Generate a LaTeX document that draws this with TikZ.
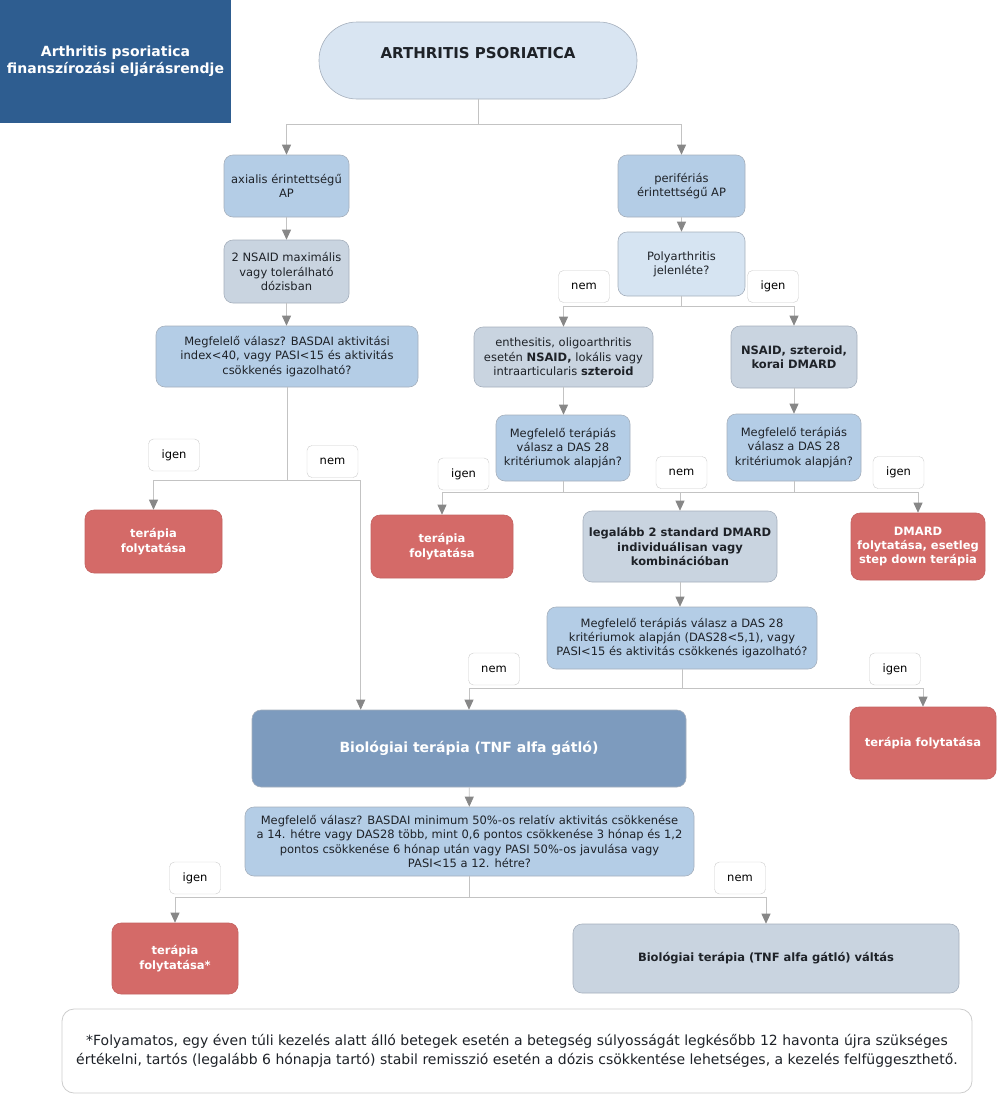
\documentclass[tikz,border=0pt]{standalone}
\usepackage{fontspec}
\setmainfont{DejaVu Sans}
\usetikzlibrary{arrows.meta}
\definecolor{titleblue}{RGB}{46,93,144}
\definecolor{pillblue}{RGB}{217,229,242}
\definecolor{midblue}{RGB}{180,205,230}
\definecolor{lightblue}{RGB}{214,228,242}
\definecolor{greyblue}{RGB}{201,212,224}
\definecolor{redfill}{RGB}{212,106,104}
\definecolor{bioblue}{RGB}{125,155,190}
\definecolor{boxline}{RGB}{165,175,188}
\definecolor{boxtext}{RGB}{30,34,40}
\definecolor{labline}{RGB}{205,205,205}
\definecolor{connline}{RGB}{195,195,195}
\definecolor{tipgray}{RGB}{135,135,135}
\begin{document}
\begin{tikzpicture}[x=1pt,y=-1pt,
    box/.style={draw=boxline, line width=0.6pt, rounded corners=9pt, align=center, inner sep=0pt,
        text=boxtext, font=\fontsize{11.5}{14.3}\selectfont},
    bluebox/.style={box, fill=midblue},
    greybox/.style={box, fill=greyblue},
    redbox/.style={box, fill=redfill, draw=redfill!92!black, text=white,
        font=\fontsize{11.5}{14.3}\selectfont\bfseries},
    lab/.style={draw=labline, fill=white, rounded corners=5pt, minimum width=51pt,
        minimum height=32pt, inner sep=0pt, font=\fontsize{11.5}{14}\selectfont},
    conn/.style={draw=connline, line width=0.8pt},
    arr/.style={conn, -{Triangle[width=9pt,length=10pt,color=tipgray]}}]
    \useasboundingbox (0,0) rectangle (997,1114);

    % header and start
    \node[fill=titleblue, text=white, minimum width=231pt, minimum height=123pt, inner sep=0pt, align=center,
        font=\fontsize{14}{17}\selectfont\bfseries] (title) at (115.5,61.5)
        {Arthritis psoriatica\\finanszírozási eljárásrendje};
    \node[box, fill=pillblue, rounded corners=38pt, minimum width=318pt, minimum height=77pt,
        text height=10pt, text depth=15pt, font=\fontsize{15}{18}\selectfont\bfseries] (top) at (478,60.5)
        {ARTHRITIS PSORIATICA};

    % axial branch
    \node[bluebox, minimum width=125pt, minimum height=62pt] (axial) at (286.5,186) {axialis érintettségű\\AP};
    \node[greybox, minimum width=125pt, minimum height=63pt] (nsaid) at (286.5,271.5)
        {2 NSAID maximális\\vagy tolerálható\\dózisban};
    \node[bluebox, minimum width=262pt, minimum height=61pt] (mtA) at (287,356.5)
        {Megfelelő válasz? BASDAI aktivitási\\index<40, vagy PASI<15 és aktivitás\\csökkenés igazolható?};
    \node[redbox, minimum width=137pt, minimum height=63pt] (terA) at (153.5,541.5) {terápia\\folytatása};

    % peripheral branch
    \node[bluebox, minimum width=127pt, minimum height=62pt] (perif) at (681.5,186) {perifériás\\érintettségű AP};
    \node[box, fill=lightblue, minimum width=127pt, minimum height=64pt] (poly) at (681.5,264)
        {Polyarthritis\\jelenléte?};
    \node[greybox, minimum width=179pt, minimum height=60pt] (enth) at (563.5,357)
        {enthesitis, oligoarthritis\\esetén \textbf{NSAID,} lokális vagy\\intraarticularis \textbf{szteroid}};
    \node[greybox, minimum width=126pt, minimum height=62pt, font=\fontsize{11.5}{14.3}\selectfont\bfseries] (nsz)
        at (794,357) {NSAID, szteroid,\\korai DMARD};
    \node[bluebox, minimum width=134pt, minimum height=66pt] (mtB) at (563,448)
        {Megfelelő terápiás\\válasz a DAS 28\\kritériumok alapján?};
    \node[bluebox, minimum width=134pt, minimum height=67pt] (mtC) at (794,447.5)
        {Megfelelő terápiás\\válasz a DAS 28\\kritériumok alapján?};
    \node[redbox, minimum width=142pt, minimum height=63pt] (terB) at (442,546.5) {terápia\\folytatása};
    \node[greybox, minimum width=194pt, minimum height=71pt, font=\fontsize{11.5}{14.3}\selectfont\bfseries] (dmard2)
        at (680,546.5) {legalább 2 standard DMARD\\individuálisan vagy\\kombinációban};
    \node[redbox, minimum width=134pt, minimum height=67pt] (terC) at (918,546.5)
        {DMARD\\folytatása, esetleg\\step down terápia};
    \node[bluebox, minimum width=270pt, minimum height=62pt] (mtD) at (682,638)
        {Megfelelő terápiás válasz a DAS 28\\kritériumok alapján (DAS28<5,1), vagy\\PASI<15 és aktivitás csökkenés igazolható?};
    \node[redbox, minimum width=146pt, minimum height=72pt] (terD) at (923,743) {terápia folytatása};

    % biological therapy
    \node[box, fill=bioblue, text=white, minimum width=434pt, minimum height=77pt,
        font=\fontsize{14}{17}\selectfont\bfseries] (bio) at (469,748.5) {Biológiai terápia (TNF alfa gátló)};
    \node[bluebox, minimum width=449pt, minimum height=69pt] (mtE) at (469.5,841.5)
        {Megfelelő válasz? BASDAI minimum 50\%-os relatív aktivitás csökkenése\\
         a 14. hétre vagy DAS28 több, mint 0,6 pontos csökkenése 3 hónap és 1,2\\
         pontos csökkenése 6 hónap után vagy PASI 50\%-os javulása vagy\\PASI<15 a 12. hétre?};
    \node[redbox, minimum width=126pt, minimum height=71pt] (terE) at (175,958.5) {terápia\\folytatása*};
    \node[greybox, minimum width=386pt, minimum height=69pt, font=\fontsize{11.5}{14.3}\selectfont\bfseries] (switch)
        at (766,958.5) {Biológiai terápia (TNF alfa gátló) váltás};
    \node[draw=labline, line width=0.8pt, fill=white, rounded corners=12pt, minimum width=910pt, minimum height=84pt,
        inner sep=0pt, align=center, text=boxtext, font=\fontsize{14}{19}\selectfont] (note) at (517,1051)
        {*Folyamatos, egy éven túli kezelés alatt álló betegek esetén a betegség súlyosságát legkésőbb 12 havonta újra szükséges\\
         értékelni, tartós (legalább 6 hónapja tartó) stabil remisszió esetén a dózis csökkentése lehetséges, a kezelés felfüggeszthető.};

    % branch points
    \coordinate (jTop) at (478,124);
    \coordinate (jA) at (287,480);
    \coordinate (jP) at (681.5,306);
    \coordinate (jB) at (563,492);
    \coordinate (jC) at (794,492);
    \coordinate (jD) at (682,688);
    \coordinate (jE) at (469.5,897);

    % connectors
    \draw[arr] (top.south) -- (jTop) -| (axial.north);
    \draw[arr] (jTop) -| (perif.north);
    \draw[arr] (axial) -- (nsaid);
    \draw[arr] (nsaid.south) -- (nsaid.south |- mtA.north);
    \draw[arr] (mtA.south) -- (jA) -| (terA.north);
    \draw[arr] (jA) -| ([xshift=109pt]bio.north west);
    \draw[arr] (perif) -- (poly);
    \draw[arr] (poly.south) -- (jP) -| (enth.north);
    \draw[arr] (jP) -| (nsz.north);
    \draw[arr] (enth.south) -- (enth.south |- mtB.north);
    \draw[arr] (nsz) -- (mtC);
    \draw[arr] (mtB.south) -- (jB) -| (terB.north);
    \draw[arr] (jB) -| (dmard2.north);
    \draw[arr] (mtC.south) -- (jC) -| (terC.north);
    \draw[conn] (jC) -- (jB);
    \draw[arr] (dmard2.south) -- (dmard2.south |- mtD.north);
    \draw[arr] (mtD.south) -- (jD) -| (bio.north);
    \draw[arr] (jD) -| (terD.north);
    \draw[arr] (bio) -- (mtE);
    \draw[arr] (mtE.south) -- (jE) -| (terE.north);
    \draw[arr] (jE) -| (switch.north);

    % yes / no labels
    \foreach \n/\t/\x/\y in {yA/igen/174/455, nA/nem/332.5/461.5, nP/nem/584/286.5, yP/igen/773/286.5,
        yB/igen/463.5/474, nB/nem/681.5/472.5, yC/igen/898.5/472.5, nD/nem/494/669, yD/igen/895/669,
        yE/igen/195/878, nE/nem/740/878}
        \node[lab] (\n) at (\x,\y) {\t};
\end{tikzpicture}
\end{document}
